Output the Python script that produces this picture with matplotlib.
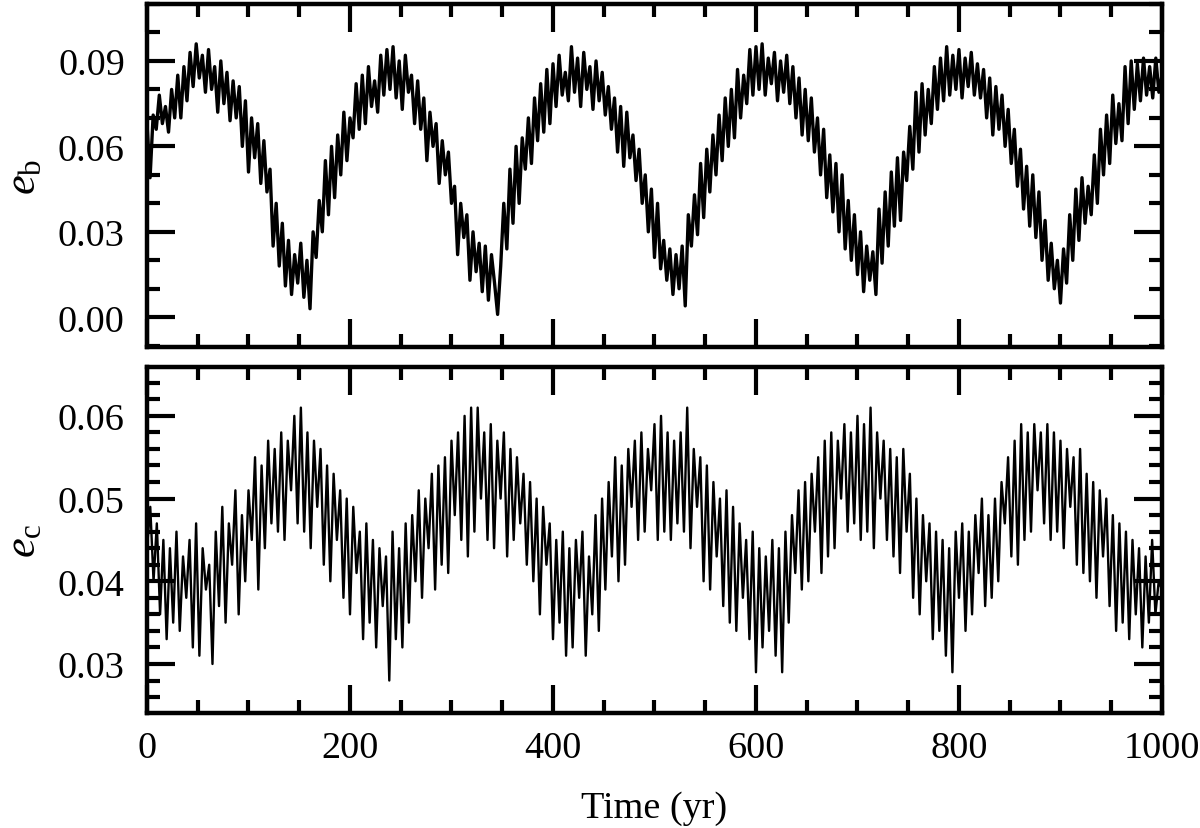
import numpy as np
import matplotlib
matplotlib.use("Agg")
import matplotlib.pyplot as plt
from matplotlib.ticker import MultipleLocator

plt.rcParams["font.family"] = ["Liberation Serif", "DejaVu Serif"]
plt.rcParams["mathtext.fontset"] = "custom"
plt.rcParams["mathtext.rm"] = "Liberation Serif"
plt.rcParams["mathtext.it"] = "Liberation Serif:italic"

e_b = [
    0.068, 0.049, 0.071, 0.066, 0.078, 0.068, 0.074, 0.065, 0.080, 0.070,
    0.085, 0.070, 0.088, 0.076, 0.093, 0.081, 0.096, 0.084, 0.092, 0.079,
    0.094, 0.080, 0.088, 0.072, 0.090, 0.075, 0.086, 0.069, 0.083, 0.070,
    0.081, 0.060, 0.076, 0.051, 0.070, 0.056, 0.068, 0.047, 0.062, 0.044,
    0.052, 0.025, 0.040, 0.018, 0.033, 0.011, 0.027, 0.008, 0.022, 0.012,
    0.026, 0.007, 0.020, 0.003, 0.030, 0.021, 0.041, 0.030, 0.055, 0.036,
    0.060, 0.042, 0.064, 0.050, 0.072, 0.055, 0.070, 0.063, 0.082, 0.066,
    0.085, 0.068, 0.088, 0.074, 0.083, 0.072, 0.092, 0.078, 0.094, 0.080,
    0.095, 0.077, 0.090, 0.073, 0.092, 0.079, 0.085, 0.068, 0.083, 0.066,
    0.077, 0.055, 0.072, 0.060, 0.068, 0.047, 0.062, 0.050, 0.058, 0.040,
    0.046, 0.022, 0.040, 0.028, 0.036, 0.013, 0.030, 0.016, 0.026, 0.009,
    0.025, 0.006, 0.022, 0.012, 0.001, 0.018, 0.040, 0.024, 0.052, 0.033,
    0.060, 0.040, 0.063, 0.052, 0.070, 0.054, 0.077, 0.062, 0.082, 0.065,
    0.087, 0.068, 0.089, 0.074, 0.092, 0.078, 0.086, 0.076, 0.095, 0.079,
    0.091, 0.074, 0.093, 0.080, 0.088, 0.073, 0.090, 0.076, 0.086, 0.071,
    0.081, 0.066, 0.077, 0.058, 0.074, 0.053, 0.072, 0.056, 0.064, 0.048,
    0.059, 0.040, 0.050, 0.030, 0.045, 0.021, 0.040, 0.017, 0.027, 0.013,
    0.024, 0.008, 0.022, 0.010, 0.025, 0.004, 0.036, 0.025, 0.043, 0.029,
    0.054, 0.035, 0.059, 0.044, 0.064, 0.050, 0.071, 0.055, 0.077, 0.060,
    0.080, 0.063, 0.087, 0.070, 0.085, 0.075, 0.094, 0.078, 0.095, 0.080,
    0.096, 0.078, 0.091, 0.082, 0.093, 0.076, 0.090, 0.079, 0.092, 0.075,
    0.088, 0.070, 0.084, 0.064, 0.080, 0.062, 0.077, 0.058, 0.070, 0.050,
    0.066, 0.042, 0.057, 0.037, 0.054, 0.030, 0.050, 0.024, 0.041, 0.020,
    0.036, 0.015, 0.030, 0.009, 0.025, 0.013, 0.023, 0.008, 0.038, 0.019,
    0.044, 0.025, 0.051, 0.032, 0.056, 0.034, 0.058, 0.048, 0.067, 0.052,
    0.079, 0.058, 0.082, 0.064, 0.080, 0.068, 0.088, 0.073, 0.091, 0.076,
    0.095, 0.078, 0.092, 0.080, 0.094, 0.077, 0.091, 0.081, 0.093, 0.078,
    0.089, 0.077, 0.087, 0.070, 0.084, 0.064, 0.081, 0.066, 0.078, 0.060,
    0.073, 0.054, 0.066, 0.046, 0.059, 0.038, 0.053, 0.032, 0.050, 0.028,
    0.044, 0.020, 0.034, 0.013, 0.026, 0.010, 0.020, 0.005, 0.024, 0.012,
    0.036, 0.020, 0.045, 0.027, 0.049, 0.033, 0.046, 0.036, 0.057, 0.040,
    0.066, 0.050, 0.071, 0.054, 0.078, 0.061, 0.075, 0.062, 0.088, 0.068,
    0.090, 0.073, 0.089, 0.076, 0.091, 0.078, 0.088, 0.077, 0.091, 0.079,
    0.085,
]

e_c = [
    0.044, 0.049, 0.040, 0.047, 0.036, 0.045, 0.033, 0.044, 0.035, 0.046,
    0.034, 0.043, 0.038, 0.045, 0.032, 0.047, 0.031, 0.044, 0.039, 0.042,
    0.030, 0.046, 0.037, 0.049, 0.035, 0.047, 0.042, 0.051, 0.036, 0.048,
    0.040, 0.051, 0.045, 0.055, 0.039, 0.054, 0.044, 0.057, 0.047, 0.056,
    0.046, 0.058, 0.045, 0.057, 0.051, 0.060, 0.047, 0.061, 0.046, 0.058,
    0.044, 0.057, 0.049, 0.056, 0.042, 0.054, 0.040, 0.053, 0.045, 0.051,
    0.038, 0.050, 0.036, 0.049, 0.041, 0.046, 0.033, 0.047, 0.035, 0.045,
    0.032, 0.044, 0.037, 0.043, 0.028, 0.046, 0.033, 0.044, 0.032, 0.047,
    0.035, 0.048, 0.040, 0.051, 0.038, 0.050, 0.044, 0.053, 0.039, 0.054,
    0.042, 0.055, 0.041, 0.057, 0.048, 0.058, 0.045, 0.060, 0.043, 0.061,
    0.046, 0.061, 0.050, 0.058, 0.045, 0.059, 0.044, 0.057, 0.050, 0.058,
    0.043, 0.056, 0.045, 0.055, 0.047, 0.053, 0.042, 0.052, 0.040, 0.050,
    0.036, 0.049, 0.042, 0.047, 0.033, 0.045, 0.035, 0.046, 0.031, 0.044,
    0.032, 0.045, 0.038, 0.046, 0.031, 0.043, 0.036, 0.048, 0.034, 0.050,
    0.039, 0.052, 0.043, 0.055, 0.040, 0.054, 0.042, 0.056, 0.049, 0.057,
    0.045, 0.058, 0.046, 0.056, 0.051, 0.059, 0.045, 0.060, 0.046, 0.058,
    0.045, 0.057, 0.047, 0.058, 0.046, 0.061, 0.044, 0.056, 0.049, 0.055,
    0.040, 0.054, 0.039, 0.052, 0.043, 0.050, 0.037, 0.051, 0.035, 0.049,
    0.034, 0.047, 0.038, 0.045, 0.033, 0.046, 0.029, 0.044, 0.032, 0.043,
    0.034, 0.045, 0.031, 0.044, 0.029, 0.046, 0.035, 0.048, 0.041, 0.051,
    0.039, 0.052, 0.040, 0.053, 0.046, 0.055, 0.041, 0.057, 0.043, 0.058,
    0.044, 0.057, 0.050, 0.059, 0.046, 0.058, 0.047, 0.060, 0.045, 0.059,
    0.046, 0.061, 0.044, 0.058, 0.050, 0.057, 0.045, 0.056, 0.043, 0.055,
    0.041, 0.056, 0.046, 0.053, 0.038, 0.050, 0.036, 0.048, 0.040, 0.047,
    0.033, 0.046, 0.034, 0.045, 0.031, 0.044, 0.029, 0.046, 0.038, 0.047,
    0.034, 0.046, 0.036, 0.048, 0.041, 0.050, 0.037, 0.048, 0.038, 0.050,
    0.040, 0.052, 0.047, 0.055, 0.043, 0.057, 0.042, 0.059, 0.045, 0.058,
    0.046, 0.059, 0.051, 0.058, 0.047, 0.059, 0.045, 0.058, 0.046, 0.057,
    0.044, 0.056, 0.049, 0.055, 0.042, 0.056, 0.041, 0.053, 0.040, 0.052,
    0.038, 0.051, 0.043, 0.050, 0.037, 0.048, 0.034, 0.047, 0.035, 0.046,
    0.033, 0.045, 0.036, 0.044, 0.032, 0.043, 0.035, 0.045, 0.036, 0.040,
    0.039,
]

t_b = np.linspace(0, 1000, len(e_b))
t_c = np.linspace(0, 1000, len(e_c))


def style(ax):
    for s in ax.spines.values():
        s.set_linewidth(3.2)
    ax.tick_params(which="both", direction="in", top=True, right=True,
                   width=3.0, labelsize=27.5)
    ax.tick_params(which="major", length=20)
    ax.tick_params(which="minor", length=9.5)
    ax.tick_params(axis="y", pad=16)
    ax.tick_params(axis="x", pad=13)
    ax.set_xlim(0, 1000)
    ax.xaxis.set_major_locator(MultipleLocator(200))
    ax.xaxis.set_minor_locator(MultipleLocator(50))


fig = plt.figure(figsize=(12, 8.29), dpi=100)
ax1 = fig.add_axes([0.1225, 0.580, 0.8458, 0.414])
ax2 = fig.add_axes([0.1225, 0.139, 0.8458, 0.417])

ax1.plot(t_b, e_b, color="black", lw=2.4)
style(ax1)
ax1.set_ylim(-0.0105, 0.110)
ax1.set_yticks([0.0, 0.03, 0.06, 0.09])
ax1.set_yticklabels(["0.00", "0.03", "0.06", "0.09"])
ax1.yaxis.set_minor_locator(MultipleLocator(0.01))
ax1.tick_params(axis="x", labelbottom=False)
ax1.set_ylabel(r"$e_{\rm b}$", fontsize=32, labelpad=10)

ax2.plot(t_c, e_c, color="black", lw=1.7)
style(ax2)
ax2.set_ylim(0.0241, 0.0659)
ax2.set_yticks([0.03, 0.04, 0.05, 0.06])
ax2.set_yticklabels(["0.03", "0.04", "0.05", "0.06"])
ax2.yaxis.set_minor_locator(MultipleLocator(0.002))
ax2.set_xticks([0, 200, 400, 600, 800, 1000])
ax2.set_xticklabels(["0", "200", "400", "600", "800", "1000"])
ax2.set_ylabel(r"$e_{\rm c}$", fontsize=32, labelpad=10)
ax2.set_xlabel("Time (yr)", fontsize=27.5, labelpad=18)

fig.savefig("out.png", dpi=100)
